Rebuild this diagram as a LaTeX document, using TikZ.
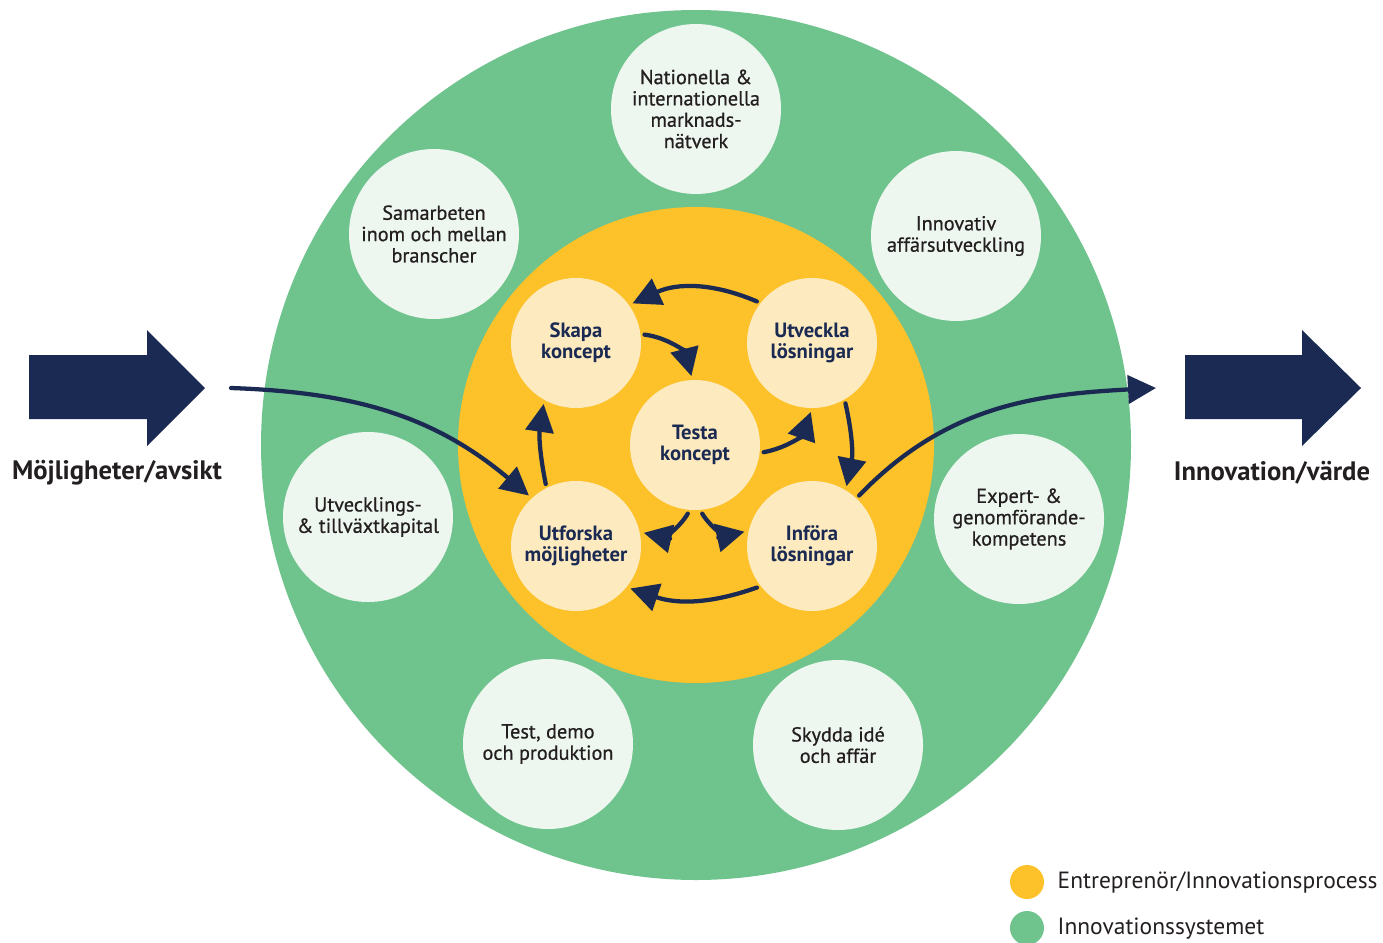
\documentclass[tikz,border=0pt]{standalone}
\usepackage{fontspec}
\setmainfont{PT Sans}
\newfontface\medfont{PT Sans}[FakeBold=0.7]
\usetikzlibrary{arrows.meta}
\definecolor{sysgreen}{HTML}{6FC38D}
\definecolor{syspale}{HTML}{EEF7EF}
\definecolor{procyellow}{HTML}{FDC12A}
\definecolor{procpale}{HTML}{FEEABF}
\definecolor{navy}{HTML}{1A2A52}
\definecolor{ink}{HTML}{231F20}
\tikzset{
  sys/.style={circle, fill=syspale, minimum size=127.5pt, inner sep=0pt, align=center,
    text=ink, font=\medfont\fontsize{15.2}{16}\selectfont},
  proc/.style={circle, fill=procpale, minimum size=97.5pt, inner sep=0pt, outer sep=3pt,
    align=center, text=navy, font=\bfseries\fontsize{15.5}{15.8}\selectfont},
  flow/.style={draw=navy, line width=3.2pt, line cap=round,
    -{Triangle[length=21pt,width=21pt]}},
  biglabel/.style={text=ink, font=\bfseries\fontsize{20}{24}\selectfont},
  legtext/.style={anchor=west, text=ink, font=\fontsize{17.6}{20}\selectfont}
}
\begin{document}
\begin{tikzpicture}[x=0.75pt,y=0.75pt]
  \useasboundingbox (0,0) rectangle (1383,-942);

  % innovationssystemet och processen
  \fill[sysgreen] (696,-445) circle (435);
  \fill[procyellow] (696,-445) circle (238);

  \node[sys] (natnet) at (696,-109) {Nationella \&\\internationella\\marknads-\\nätverk};
  \node[sys] (samarb) at (434,-234) {Samarbeten\\inom och mellan\\branscher};
  \node[sys] (affutv) at (956,-236) {Innovativ\\affärsutveckling};
  \node[sys] (kapital) at (368,-517) {Utvecklings-\\\& tillväxtkapital};
  \node[sys] (kompet) at (1019,-519) {Expert- \&\\genomförande-\\kompetens};
  \node[sys] (testdemo) at (548,-744) {Test, demo\\och produktion};
  \node[sys] (skydda) at (838,-745) {Skydda idé\\och affär};

  \node[proc] (skapa) at (576,-343) {Skapa\\koncept};
  \node[proc] (utveckla) at (812,-343) {Utveckla\\lösningar};
  \node[proc] (testa) at (695,-445) {Testa\\koncept};
  \node[proc] (utforska) at (576,-546) {Utforska\\möjligheter};
  \node[proc] (infora) at (812,-546) {Införa\\lösningar};

  % processpilar
  \draw[flow] (utveckla.143) to[bend right=24] (skapa.35);
  \draw[flow] (skapa.7) to[bend left=34] (testa.93);
  \draw[flow] (testa.-6) to[bend right=30] (utveckla.-91);
  \draw[flow] (utveckla.-61) to[bend left=12] (infora.60);
  \draw[flow] (testa.264) to[bend left=36] (utforska.11);
  \draw[flow] (testa.276) to[bend right=36] (infora.168);
  \draw[flow] (infora.217) to[bend left=19] (utforska.322);
  \draw[flow] (utforska.116) to[bend left=10] (skapa.242);

  % in och ut
  \fill[navy] (29,-355) -- (147,-355) -- (147,-330) -- (205,-388) -- (147,-446) -- (147,-419) -- (29,-419) -- cycle;
  \fill[navy] (1185,-355) -- (1302,-355) -- (1302,-330) -- (1361,-388) -- (1302,-446) -- (1302,-419) -- (1185,-419) -- cycle;
  \node[biglabel] (mojl) at (117,-473) {Möjligheter/avsikt};
  \node[biglabel] (innov) at (1272,-473) {Innovation/värde};

  \coordinate (instart) at (231,-388);
  \coordinate (utslut) at (1156,-388);
  \draw[flow] (instart) to[out=-2,in=140] (utforska.133);
  \draw[flow] (infora.47) to[out=46,in=183] (utslut);

  % legend
  \fill[procyellow] (1027,-882) circle (17);
  \fill[sysgreen] (1027,-928) circle (17);
  \node[legtext] (legproc) at (1053,-882) {Entreprenör/Innovationsprocess};
  \node[legtext] (legsys) at (1053,-929) {Innovationssystemet};
\end{tikzpicture}
\end{document}
